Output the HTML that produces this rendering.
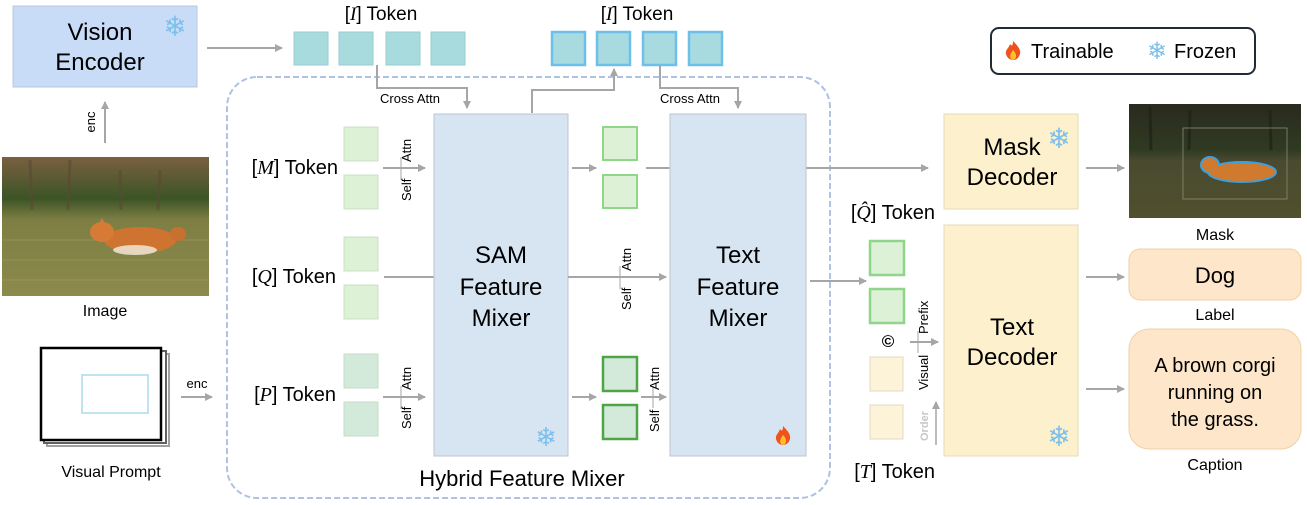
<!DOCTYPE html>
<html><head><meta charset="utf-8"><style>
html,body{margin:0;padding:0;background:#fff;}
body{width:1307px;height:505px;overflow:hidden;position:relative;font-family:"Liberation Sans",sans-serif;}
svg{position:absolute;left:0;top:0;}
</style></head><body>
<svg width="1307" height="505" viewBox="0 0 1307 505" xmlns="http://www.w3.org/2000/svg" font-family="Liberation Sans, sans-serif">
<defs>
<marker id="ah" markerWidth="8" markerHeight="8" refX="7" refY="4" orient="auto" markerUnits="userSpaceOnUse">
<path d="M0,0 L8,4 L0,8 z" fill="#a6a6a6"/></marker>
<linearGradient id="sky" x1="0" y1="0" x2="0" y2="1">
<stop offset="0" stop-color="#7a6040"/><stop offset="0.3" stop-color="#3c5426"/><stop offset="0.45" stop-color="#7e7e44"/><stop offset="1" stop-color="#8c8a4c"/></linearGradient>
<linearGradient id="sky2" x1="0" y1="0" x2="0" y2="1">
<stop offset="0" stop-color="#2a2a1e"/><stop offset="0.4" stop-color="#2f3a22"/><stop offset="0.5" stop-color="#4a4a30"/><stop offset="1" stop-color="#50502e"/></linearGradient>
<g id="flame"><path d="M0,-9 C5,-4 8,0 7,4 C6,8 3,10 0,10 C-3,10 -6,8 -7,4 C-8,0 -4,-2 -3,-6 C-1,-3 0,-5 0,-9z" fill="#f0521c"/><path d="M0,0 C3,3 4,6 2,9 C1,10 -1,10 -2,9 C-4,6 -2,3 0,0z" fill="#fbc02d"/></g>
</defs>

<!-- Vision encoder -->
<rect x="13" y="6" width="184" height="81" fill="#c9dcf7" stroke="#b8c8dc"/>
<text x="100" y="40" font-size="24" text-anchor="middle">Vision</text>
<text x="100" y="70" font-size="24" text-anchor="middle">Encoder</text>
<text x="175" y="36" font-size="28" text-anchor="middle" fill="#7cc0ec">❄</text>
<line x1="207" y1="48" x2="282" y2="48" stroke="#a6a6a6" stroke-width="2" marker-end="url(#ah)"/>

<!-- I tokens -->
<text x="381" y="20" font-size="19" text-anchor="middle">[<tspan font-family="Liberation Serif" font-style="italic">I</tspan>] Token</text>
<g fill="#a8dbdd" stroke="#98cdd0">
<rect x="294" y="32" width="34" height="33"/><rect x="339" y="32" width="34" height="33"/><rect x="386" y="32" width="34" height="33"/><rect x="431" y="32" width="34" height="33"/></g>
<text x="637" y="20" font-size="19" text-anchor="middle">[<tspan font-family="Liberation Serif" font-style="italic">I</tspan>] Token</text>
<g fill="#a8dbe0" stroke="#6ec0ea" stroke-width="2.5">
<rect x="552" y="32" width="33" height="33"/><rect x="597" y="32" width="33" height="33"/><rect x="643" y="32" width="33" height="33"/><rect x="689" y="32" width="33" height="33"/></g>

<!-- legend -->
<rect x="991" y="28" width="264" height="46" rx="8" fill="#fff" stroke="#1f2c38" stroke-width="2"/>
<use href="#flame" x="1013" y="50"/>
<text x="1031" y="58" font-size="20">Trainable</text>
<text x="1157" y="59" font-size="24" text-anchor="middle" fill="#7cc0ec">❄</text>
<text x="1174" y="58" font-size="20">Frozen</text>

<!-- dashed box -->
<rect x="227" y="77" width="603" height="421" rx="30" fill="none" stroke="#aec2e2" stroke-width="2" stroke-dasharray="6,3"/>
<text x="522" y="486" font-size="22" text-anchor="middle">Hybrid Feature Mixer</text>

<!-- image -->
<rect x="2" y="157" width="207" height="139" fill="url(#sky)"/>
<g stroke="#5a4a34" stroke-width="3" opacity="0.6">
<line x1="30" y1="160" x2="32" y2="210"/><line x1="70" y1="160" x2="68" y2="210"/><line x1="120" y1="170" x2="121" y2="210"/><line x1="160" y1="170" x2="158" y2="210"/></g>
<g stroke="#a8a06a" stroke-width="1" opacity="0.5">
<line x1="2" y1="240" x2="209" y2="240"/><line x1="2" y1="260" x2="209" y2="260"/><line x1="2" y1="280" x2="209" y2="280"/></g>
<ellipse cx="140" cy="240" rx="36" ry="13" fill="#cf7430"/>
<ellipse cx="102" cy="232" rx="12" ry="10" fill="#d67b35"/>
<path d="M102,218 L106,226 L98,226z" fill="#d67b35"/>
<ellipse cx="178" cy="234" rx="8" ry="7" fill="#c87030"/>
<ellipse cx="135" cy="250" rx="22" ry="5" fill="#efe6d6" opacity="0.85"/>
<text x="105" y="316" font-size="16" text-anchor="middle">Image</text>
<line x1="105" y1="143" x2="105" y2="102" stroke="#a6a6a6" stroke-width="2" marker-end="url(#ah)"/>
<text transform="translate(95,122) rotate(-90)" font-size="13" text-anchor="middle">enc</text>

<!-- visual prompt -->
<rect x="47" y="354" width="122" height="92" fill="#fff" stroke="#a0a0a0" stroke-width="2"/>
<rect x="44" y="351" width="122" height="92" fill="#fff" stroke="#606060" stroke-width="2"/>
<rect x="41" y="348" width="120" height="92" fill="#fff" stroke="#000" stroke-width="2.5"/>
<rect x="82" y="375" width="66" height="38" fill="none" stroke="#bfe3f0" stroke-width="2"/>
<text x="111" y="477" font-size="16" text-anchor="middle">Visual Prompt</text>
<line x1="181" y1="397" x2="212" y2="397" stroke="#a6a6a6" stroke-width="2" marker-end="url(#ah)"/>
<text x="197" y="388" font-size="13" text-anchor="middle">enc</text>

<!-- token labels -->
<g font-size="20" text-anchor="end">
<text x="338" y="174">[<tspan font-family="Liberation Serif" font-style="italic">M</tspan>] Token</text>
<text x="336" y="283">[<tspan font-family="Liberation Serif" font-style="italic">Q</tspan>] Token</text>
<text x="336" y="401">[<tspan font-family="Liberation Serif" font-style="italic">P</tspan>] Token</text>
</g>
<g fill="#dcf1d5" stroke="#cde0c6">
<rect x="344" y="127" width="34" height="34"/><rect x="344" y="175" width="34" height="34"/>
<rect x="344" y="237" width="34" height="34"/><rect x="344" y="285" width="34" height="34"/></g>
<g fill="#d3eadb" stroke="#c4dccb">
<rect x="344" y="354" width="34" height="34"/><rect x="344" y="402" width="34" height="34"/></g>

<!-- Self/Attn left -->
<g stroke="#a6a6a6" stroke-width="2">
<line x1="383" y1="168" x2="425" y2="168" marker-end="url(#ah)"/>
<line x1="401" y1="157" x2="401" y2="180" stroke-width="1"/>
<line x1="383" y1="397" x2="425" y2="397" marker-end="url(#ah)"/>
<line x1="401" y1="386" x2="401" y2="409" stroke-width="1"/>
<line x1="384" y1="277" x2="434" y2="277"/>
</g>
<g font-size="13">
<text transform="translate(411,162) rotate(-90)">Attn</text>
<text transform="translate(411,201) rotate(-90)">Self</text>
<text transform="translate(411,390) rotate(-90)">Attn</text>
<text transform="translate(411,429) rotate(-90)">Self</text>
</g>

<!-- cross attn 1 -->
<polyline points="377,65 377,88 467,88 467,108" fill="none" stroke="#a6a6a6" stroke-width="2" marker-end="url(#ah)"/>
<text x="380" y="103" font-size="13">Cross Attn</text>
<polyline points="532,113 532,90 614,90 614,69" fill="none" stroke="#a6a6a6" stroke-width="2" marker-end="url(#ah)"/>
<polyline points="660,66 660,88 738,88 738,108" fill="none" stroke="#a6a6a6" stroke-width="2" marker-end="url(#ah)"/>
<text x="660" y="103" font-size="13">Cross Attn</text>

<line x1="646" y1="168" x2="928" y2="168" stroke="#a6a6a6" stroke-width="2" marker-end="url(#ah)"/>

<!-- SAM -->
<rect x="434" y="114" width="134" height="342" fill="#d7e4f2" stroke="#bcc6d0"/>
<g font-size="24" text-anchor="middle">
<text x="501" y="263">SAM</text><text x="501" y="295">Feature</text><text x="501" y="326">Mixer</text></g>
<text x="546" y="446" font-size="26" text-anchor="middle" fill="#7cc0ec">❄</text>

<!-- Text mixer -->
<rect x="670" y="114" width="136" height="342" fill="#d7e4f2" stroke="#bcc6d0"/>
<g font-size="24" text-anchor="middle">
<text x="738" y="263">Text</text><text x="738" y="295">Feature</text><text x="738" y="326">Mixer</text></g>
<use href="#flame" x="783" y="435"/>

<!-- SAM outputs -->
<g stroke="#a6a6a6" stroke-width="2">
<line x1="572" y1="168" x2="596" y2="168" marker-end="url(#ah)"/>
<line x1="572" y1="397" x2="596" y2="397" marker-end="url(#ah)"/>
<line x1="568" y1="277" x2="666" y2="277" marker-end="url(#ah)"/>
<line x1="620" y1="266" x2="620" y2="289" stroke-width="1"/>
<line x1="641" y1="397" x2="666" y2="397" marker-end="url(#ah)"/>
<line x1="653" y1="386" x2="653" y2="408" stroke-width="1"/>
<line x1="810" y1="281" x2="866" y2="281" marker-end="url(#ah)"/>
</g>
<g font-size="13">
<text transform="translate(631,271) rotate(-90)">Attn</text>
<text transform="translate(631,310) rotate(-90)">Self</text>
<text transform="translate(659,390) rotate(-90)">Attn</text>
<text transform="translate(659,432) rotate(-90)">Self</text>
</g>
<g fill="#dcf1d5" stroke="#8fd68a" stroke-width="2">
<rect x="603" y="127" width="34" height="33"/><rect x="603" y="175" width="34" height="33"/></g>
<g fill="#d3eadb" stroke="#4fa545" stroke-width="2.5">
<rect x="603" y="357" width="34" height="34"/><rect x="603" y="405" width="34" height="34"/></g>

<!-- Q hat -->
<text x="935" y="219" font-size="20" text-anchor="end">[<tspan font-family="Liberation Serif" font-style="italic">Q̂</tspan>] Token</text>
<g fill="#dcf1d5" stroke="#8fd68a" stroke-width="2.5">
<rect x="870" y="241" width="34" height="34"/><rect x="870" y="289" width="34" height="34"/></g>
<text x="888" y="347" font-size="17" text-anchor="middle" font-weight="bold">©</text>
<g fill="#fdf3d8" stroke="#e2d8c2">
<rect x="870" y="357" width="33" height="34"/><rect x="870" y="405" width="33" height="34"/></g>
<text x="935" y="478" font-size="20" text-anchor="end">[<tspan font-family="Liberation Serif" font-style="italic">T</tspan>] Token</text>
<line x1="910" y1="342" x2="938" y2="342" stroke="#a6a6a6" stroke-width="2" marker-end="url(#ah)"/>
<line x1="918" y1="331" x2="918" y2="353" stroke="#a6a6a6" stroke-width="1"/>
<text transform="translate(928,334) rotate(-90)" font-size="13">Prefix</text>
<text transform="translate(928,390) rotate(-90)" font-size="13">Visual</text>
<line x1="936" y1="445" x2="936" y2="402" stroke="#bcbcbc" stroke-width="2" marker-end="url(#ah)"/>
<text transform="translate(928,441) rotate(-90)" font-size="11" fill="#c8c8c8" font-weight="bold">Order</text>

<!-- decoders -->
<rect x="944" y="114" width="134" height="95" fill="#fdf0cd" stroke="#e6dab8"/>
<text x="1012" y="155" font-size="24" text-anchor="middle">Mask</text>
<text x="1012" y="185" font-size="24" text-anchor="middle">Decoder</text>
<text x="1059" y="148" font-size="28" text-anchor="middle" fill="#7cc0ec">❄</text>
<rect x="944" y="225" width="134" height="231" fill="#fdf0cd" stroke="#e6dab8"/>
<text x="1012" y="335" font-size="24" text-anchor="middle">Text</text>
<text x="1012" y="365" font-size="24" text-anchor="middle">Decoder</text>
<text x="1059" y="446" font-size="28" text-anchor="middle" fill="#7cc0ec">❄</text>

<g stroke="#a6a6a6" stroke-width="2">
<line x1="1086" y1="168" x2="1124" y2="168" marker-end="url(#ah)"/>
<line x1="1086" y1="277" x2="1124" y2="277" marker-end="url(#ah)"/>
<line x1="1086" y1="389" x2="1124" y2="389" marker-end="url(#ah)"/>
</g>

<!-- mask image -->
<rect x="1129" y="104" width="172" height="114" fill="url(#sky2)"/>
<g stroke="#1e2218" stroke-width="3" opacity="0.7">
<line x1="1150" y1="106" x2="1151" y2="150"/><line x1="1190" y1="110" x2="1189" y2="150"/><line x1="1270" y1="110" x2="1271" y2="150"/></g>
<rect x="1183" y="128" width="104" height="71" fill="none" stroke="#8a8a7a" stroke-width="0.8"/>
<ellipse cx="1242" cy="172" rx="34" ry="10" fill="#d07a30" stroke="#3aa0e0" stroke-width="2"/>
<ellipse cx="1210" cy="165" rx="9" ry="8" fill="#d07a30" stroke="#3aa0e0" stroke-width="2"/>
<ellipse cx="1242" cy="172" rx="33" ry="9" fill="#d07a30"/>
<text x="1215" y="240" font-size="16" text-anchor="middle">Mask</text>

<rect x="1129" y="249" width="172" height="51" rx="11" fill="#fde6c9" stroke="#f2d0a4"/>
<text x="1215" y="283" font-size="22" text-anchor="middle">Dog</text>
<text x="1215" y="320" font-size="16" text-anchor="middle">Label</text>
<rect x="1129" y="329" width="172" height="120" rx="20" fill="#fde6c9" stroke="#f2d0a4"/>
<g font-size="20" text-anchor="middle">
<text x="1215" y="372">A brown corgi</text><text x="1215" y="399">running on</text><text x="1215" y="426">the grass.</text></g>
<text x="1215" y="470" font-size="16" text-anchor="middle">Caption</text>
</svg>
</body></html>
